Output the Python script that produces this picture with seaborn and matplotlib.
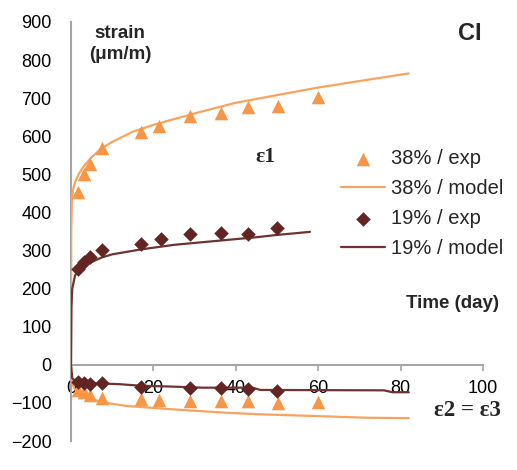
import matplotlib
matplotlib.use("Agg")
import matplotlib.pyplot as plt
import seaborn as sns
import numpy as np

# ---- data ----
# epsilon 1 (upper branch)
t_exp38_e1 = [1.7, 3.2, 4.6, 7.5, 17, 21.4, 29, 36.4, 43, 50.3, 60]
v_exp38_e1 = [455, 500, 527, 570, 612, 628, 652, 660, 677, 680, 703]

t_mod38_e1 = [0, 0.05, 0.2, 0.5, 1, 2, 3, 5, 7.5, 10, 15, 20, 25, 30, 40, 50, 60, 70, 82]
v_mod38_e1 = [0, 350, 432, 460, 480, 503, 520, 545, 569, 585, 612, 630, 645, 660, 688, 708, 728, 745, 765]

t_exp19_e1 = [1.7, 3.2, 4.6, 7.5, 17, 21.8, 29, 36.4, 43, 50]
v_exp19_e1 = [251, 271, 282, 301, 316, 329, 343, 345, 343, 360]

t_mod19_e1 = [0, 0.1, 0.3, 1, 2, 4, 7.5, 10, 17, 25, 30, 40, 45, 50, 58]
v_mod19_e1 = [0, 150, 200, 235, 250, 265, 282, 290, 303, 315, 320, 330, 335, 341, 349]

# epsilon 2 = epsilon 3 (lower branch)
t_exp38_e2 = [1.7, 3.2, 4.6, 7.5, 17, 21.4, 29, 36.4, 43, 50.3, 60]
v_exp38_e2 = [-65, -72, -79, -88, -91, -92, -95, -95, -95, -99, -97]

t_mod38_e2 = [0, 0.3, 1, 2, 4.6, 7.5, 13.5, 21, 29, 38, 46, 58, 72, 82]
v_mod38_e2 = [0, -50, -65, -75, -88, -98, -108, -114, -120, -126, -130, -134, -139, -140]

t_exp19_e2 = [1.7, 3.2, 4.6, 7.5, 17, 29, 36.4, 43, 50]
v_exp19_e2 = [-45, -48, -50, -48, -57, -62, -62, -64, -68]

t_mod19_e2 = [0, 0.3, 1, 3, 7.5, 12, 17, 24, 32, 44, 46, 76, 78, 82]
v_mod19_e2 = [0, -35, -42, -47, -49, -51, -55, -57, -60, -60, -66, -67, -72, -72]

x_ticks = [0, 20, 40, 60, 80, 100]
y_ticks = list(range(-200, 901, 100))

labels = ["38% / exp", "38% / model", "19% / exp", "19% / model"]

ORANGE = "#F79646"
ORANGE_L = "#F9A360"
BROWN = "#632523"
BROWN_L = "#6E3333"

sns.set_style("white")
plt.rcParams["font.family"] = ["Liberation Sans", "DejaVu Sans"]

fig = plt.figure(figsize=(5.17, 4.70), dpi=100)
ax = fig.add_axes([71 / 517, 29 / 470, 412 / 517, 419 / 470])

# model lines
sns.lineplot(x=t_mod38_e1, y=v_mod38_e1, ax=ax, color=ORANGE_L, lw=1.6, sort=False,
             estimator=None, label=labels[1], zorder=3)
sns.lineplot(x=t_mod38_e2, y=v_mod38_e2, ax=ax, color=ORANGE_L, lw=1.6, sort=False,
             estimator=None, zorder=3)
sns.lineplot(x=t_mod19_e1, y=v_mod19_e1, ax=ax, color=BROWN_L, lw=1.6, sort=False,
             estimator=None, label=labels[3], zorder=3)
sns.lineplot(x=t_mod19_e2, y=v_mod19_e2, ax=ax, color=BROWN_L, lw=1.6, sort=False,
             estimator=None, zorder=3)

# experimental markers
sns.scatterplot(x=t_exp38_e1, y=v_exp38_e1, ax=ax, color=ORANGE, marker="^", s=95,
                linewidth=0, label=labels[0], zorder=4)
sns.scatterplot(x=t_exp38_e2, y=v_exp38_e2, ax=ax, color=ORANGE, marker="^", s=95,
                linewidth=0, zorder=4)
sns.scatterplot(x=t_exp19_e1, y=v_exp19_e1, ax=ax, color=BROWN, marker="D", s=55,
                linewidth=0, label=labels[2], zorder=4)
sns.scatterplot(x=t_exp19_e2, y=v_exp19_e2, ax=ax, color=BROWN, marker="D", s=55,
                linewidth=0, zorder=4)

ax.set_xlim(0, 100)
ax.set_ylim(-200, 900)
ax.set_xticks(x_ticks)
ax.set_yticks(y_ticks)
ax.set_xlabel("")
ax.set_ylabel("")

for s in ["top", "right"]:
    ax.spines[s].set_visible(False)
ax.spines["bottom"].set_position(("data", 0))
for s in ["left", "bottom"]:
    ax.spines[s].set_color("#A6A6A6")
    ax.spines[s].set_linewidth(1.5)
ax.tick_params(axis="both", direction="out", length=4, width=1.2, color="#A6A6A6",
               labelsize=13, labelcolor="black")
ax.tick_params(axis="y", pad=10)
ax.tick_params(axis="x", pad=7, bottom=True)

# legend
h, l = ax.get_legend_handles_labels()
hd = dict(zip(l, h))
ax.legend([hd[k] for k in labels], labels, loc="upper left",
          bbox_to_anchor=(333 / 517, 1 - 141 / 470), bbox_transform=fig.transFigure,
          borderaxespad=0, frameon=False, fontsize=14.5, handlelength=2.2,
          handletextpad=0.3, labelspacing=0.55)

# annotations
fig.text(120 / 517, 1 - 44 / 470, "strain\n(μm/m)", ha="center", va="center",
         fontsize=13.5, fontweight="bold", linespacing=1.25)
fig.text(470 / 517, 1 - 33 / 470, "CI", ha="center", va="center",
         fontsize=17, fontweight="bold")
fig.text(265 / 517, 1 - 157 / 470, "ε1", ha="center", va="center",
         fontsize=15.5, fontweight="bold", family=["Liberation Serif", "DejaVu Serif"])
fig.text(467 / 517, 1 - 410 / 470, "ε2 = ε3", ha="center", va="center",
         fontsize=16.5, fontweight="bold", family=["Liberation Serif", "DejaVu Serif"])
fig.text(453 / 517, 1 - 303 / 470, "Time (day)", ha="center", va="center",
         fontsize=13.5, fontweight="bold")

fig.savefig("out.png", dpi=100)
